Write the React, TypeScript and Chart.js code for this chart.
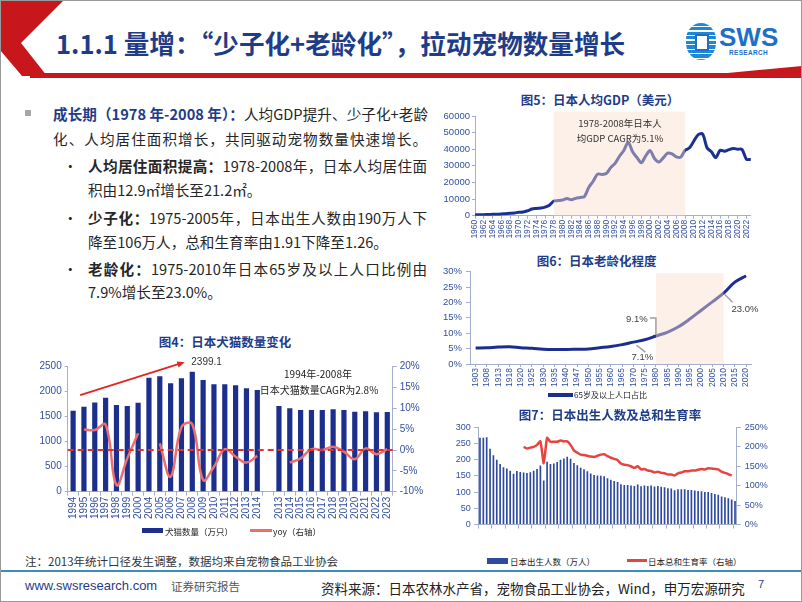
import React, { useEffect, useRef } from 'react';
import { Chart, registerables } from 'chart.js';
Chart.register(...registerables);

// ---------- 图4：日本犬猫数量变化 ----------
const petLabels = ['1994','1995','1996','1997','1998','1999','2000','2004','2005','2006','2007','2008','2009','2010','2011','2012','2013','2014','','2013','2014','2015','2016','2017','2018','2019','2020','2021','2022','2023'];
const petCount = [1620,1700,1785,1880,1733,1713,1780,2280,2310,2167,2267,2399.1,2233,2147,2150,2127,2067,2033,null,1713,1667,1633,1633,1633,1647,1633,1600,1607,1587,1593];
const petYoy = [null,4.9,4.8,6.1,-8.4,-2.0,4.0,null,1.6,-6.4,5.5,6.2,-7.2,-4.0,0.2,-1.6,-3.0,-1.4,null,null,-3.0,-2.0,0.2,0.0,0.8,-0.4,-2.2,0.4,-1.0,0.2];
const petPeakIndex = 11;
const petArrowFrom = [0.65, 1930];
const petArrowTo = [10.3, 2590];
const petNote = ['1994年-2008年', '日本犬猫数量CAGR为2.8%'];

// ---------- 图5：日本人均GDP（美元） ----------
const gdpYears = ['1960','1961','1962','1963','1964','1965','1966','1967','1968','1969','1970','1971','1972','1973','1974','1975','1976','1977','1978','1979','1980','1981','1982','1983','1984','1985','1986','1987','1988','1989','1990','1991','1992','1993','1994','1995','1996','1997','1998','1999','2000','2001','2002','2003','2004','2005','2006','2007','2008','2009','2010','2011','2012','2013','2014','2015','2016','2017','2018','2019','2020','2021','2022','2023'];
const gdpValues = [479,564,636,720,836,919,1058,1229,1451,1669,2037,2272,2967,3998,4354,4659,5198,6335,8821,9105,9463,10361,9578,10425,10984,11585,17112,20745,25052,24823,25371,28925,31465,35766,39269,44198,38437,35022,31903,36027,39169,34406,32289,34808,37688,37218,35434,35275,39339,40855,44968,48760,49145,40898,38475,34961,39375,38834,39751,40416,40041,39827,34017,33834];
const gdpShade = ['1978', '2008'];
const gdpNote = ['1978-2008年日本人', '均GDP CAGR为5.1%'];

// ---------- 图6：日本老龄化程度 ----------
const ageLabels = ['1903','1908','1913','1918','1920','1925','1930','1935','1940','1947','1950','1955','1960','1965','1970','1975','1980','1985','1990','1995','2000','2005','2010','2015','2020'];
const ageValues = [5.2,5.3,5.5,5.6,5.3,5.1,4.8,4.7,4.7,4.8,4.9,5.3,5.7,6.3,7.1,7.9,9.1,10.3,12.1,14.6,17.4,20.2,23.0,26.6,28.7];
const ageShade = ['1980', '2010'];
const ageMarks = ['1970', '1980', '2010'];

// ---------- 图7：日本出生人数及总和生育率 ----------
const birthYears = ['1947','1948','1949','1950','1951','1952','1953','1954','1955','1956','1957','1958','1959','1960','1961','1962','1963','1964','1965','1966','1967','1968','1969','1970','1971','1972','1973','1974','1975','1976','1977','1978','1979','1980','1981','1982','1983','1984','1985','1986','1987','1988','1989','1990','1991','1992','1993','1994','1995','1996','1997','1998','1999','2000','2001','2002','2003','2004','2005','2006','2007','2008','2009','2010','2011','2012','2013','2014','2015','2016','2017','2018','2019','2020','2021','2022','2023'];
const births = [267.9,268.2,269.7,233.8,213.8,200.5,186.8,177.0,173.1,166.5,156.7,165.3,162.6,160.6,158.9,161.9,166.0,171.7,182.4,136.1,193.6,187.2,188.9,193.4,200.1,203.9,209.2,203.0,190.1,183.3,175.5,170.9,164.3,157.7,152.9,151.5,150.9,149.0,143.2,138.3,134.7,131.4,124.7,122.2,122.3,120.9,118.8,123.8,118.7,120.7,119.2,120.3,117.8,119.1,117.1,115.4,112.4,111.1,106.3,109.3,109.0,109.1,107.0,107.1,105.1,103.7,103.0,100.4,100.6,97.7,94.6,91.8,86.5,84.1,81.2,77.1,72.7];
const tfr = [null,null,null,null,null,null,null,null,null,null,null,null,null,200,196,198,200,205,214,158,223,213,213,213,216,214,214,205,191,185,180,179,177,175,174,177,180,181,176,172,169,166,157,154,153,150,146,150,142,143,139,138,134,136,133,132,129,129,126,132,134,137,137,139,139,141,143,142,145,144,143,142,136,133,130,126,null];

// ---------- styles ----------
const NUM = "'Liberation Sans', 'Noto Sans CJK SC', sans-serif";
const CJK = "'Noto Sans CJK SC', 'Liberation Sans', sans-serif";
const BODY = "'Liberation Sans Narrow', 'Noto Sans CJK SC', sans-serif";
const TICK = '#33509E';
const AXIS = '#A3AED0';
const NAVY = '#1B2E8E';
const TITLE = '#1F3C88';
const SHADE = 'rgba(248,222,206,0.45)';
const plain = (v: any) => String(v);

Chart.defaults.font.family = NUM;

function ChartCanvas({ left, top, width, height, config }: any) {
  const ref = useRef<HTMLCanvasElement>(null);
  useEffect(() => {
    const chart = new Chart(ref.current as any, config());
    return () => chart.destroy();
  }, []);
  return <canvas ref={ref} width={width} height={height} style={{ position: 'absolute', left, top, width, height }} />;
}

const axisGrid = (len: number) => ({ display: true, drawOnChartArea: false, tickLength: len, color: AXIS });

function arrow(ctx: any, x0: number, y0: number, x1: number, y1: number) {
  const a = Math.atan2(y1 - y0, x1 - x0);
  ctx.beginPath(); ctx.moveTo(x0, y0); ctx.lineTo(x1 - 5 * Math.cos(a), y1 - 5 * Math.sin(a)); ctx.stroke();
  ctx.beginPath();
  ctx.moveTo(x1, y1);
  ctx.lineTo(x1 - 8 * Math.cos(a - 0.4), y1 - 8 * Math.sin(a - 0.4));
  ctx.lineTo(x1 - 8 * Math.cos(a + 0.4), y1 - 8 * Math.sin(a + 0.4));
  ctx.closePath(); ctx.fill();
}

const petExtras = {
  id: 'petExtras',
  afterDatasetsDraw(chart: any) {
    const { ctx, chartArea, scales } = chart;
    const py = scales.y1.getPixelForValue(0);
    ctx.save();
    ctx.strokeStyle = '#E5322B'; ctx.lineWidth = 2; ctx.setLineDash([6, 4]);
    ctx.beginPath(); ctx.moveTo(chartArea.left, py); ctx.lineTo(chartArea.right, py); ctx.stroke();
    ctx.restore();
  },
  afterDraw(chart: any) {
    const { ctx, scales } = chart;
    const { x, y } = scales;
    ctx.save();
    ctx.strokeStyle = '#E3261F'; ctx.fillStyle = '#E3261F'; ctx.lineWidth = 1.8;
    arrow(ctx, x.getPixelForValue(petArrowFrom[0]), y.getPixelForValue(petArrowFrom[1]), x.getPixelForValue(petArrowTo[0]), y.getPixelForValue(petArrowTo[1]));
    const bx = x.getPixelForValue(petPeakIndex);
    const by = y.getPixelForValue(petCount[petPeakIndex]);
    ctx.fillStyle = '#333'; ctx.font = `10px ${NUM}`; ctx.textAlign = 'left'; ctx.textBaseline = 'middle';
    ctx.fillText(String(petCount[petPeakIndex]), bx - 1, by - 9);
    ctx.restore();
  },
};

const shadeOf = (labels: string[], range: string[], extraTop: number) => ({
  id: 'shade',
  afterDatasetsDraw(chart: any) {
    const { ctx, chartArea, scales } = chart;
    const x0 = scales.x.getPixelForValue(labels.indexOf(range[0]));
    const x1 = scales.x.getPixelForValue(labels.indexOf(range[1]));
    ctx.save();
    ctx.fillStyle = SHADE;
    ctx.fillRect(x0, chartArea.top - extraTop, x1 - x0, chartArea.bottom - chartArea.top + extraTop);
    ctx.restore();
  },
});

const ageExtras = {
  id: 'ageExtras',
  afterDraw(chart: any) {
    const { ctx, scales } = chart;
    const pt = (lab: string) => {
      const i = ageLabels.indexOf(lab);
      return [scales.x.getPixelForValue(i), scales.y.getPixelForValue(ageValues[i]), ageValues[i]];
    };
    ctx.save();
    ctx.strokeStyle = '#A0A0A0'; ctx.lineWidth = 1.5; ctx.fillStyle = '#404040';
    ctx.font = `9.5px ${NUM}`; ctx.textBaseline = 'middle';
    const [ax, ay, av] = pt(ageMarks[0]);
    ctx.beginPath(); ctx.moveTo(ax + 3, ay + 3); ctx.lineTo(ax + 12, ay + 10); ctx.stroke();
    ctx.textAlign = 'center'; ctx.fillText(av.toFixed(1) + '%', ax + 9, ay + 15);
    const [bx, by, bv] = pt(ageMarks[1]);
    ctx.beginPath(); ctx.moveTo(bx - 6, by - 18); ctx.lineTo(bx, by - 18); ctx.lineTo(bx, by - 1); ctx.stroke();
    ctx.textAlign = 'center'; ctx.fillText(bv.toFixed(1) + '%', bx - 19, by - 17);
    const [cx, cy, cv] = pt(ageMarks[2]);
    ctx.beginPath(); ctx.moveTo(cx + 1, cy + 1); ctx.lineTo(cx + 9, cy + 9); ctx.stroke();
    ctx.textAlign = 'left'; ctx.fillText(cv.toFixed(1) + '%', cx + 8, cy + 16);
    ctx.restore();
  },
};

const petConfig = () => ({
  type: 'bar',
  data: {
    labels: petLabels,
    datasets: [
      { type: 'line', label: 'yoy（右轴）', data: petYoy, yAxisID: 'y1', borderColor: '#EC6F6F', borderWidth: 2.5, tension: 0.4, pointRadius: 0, spanGaps: false },
      { type: 'bar', label: '犬猫数量（万只）', data: petCount, yAxisID: 'y', backgroundColor: '#1C2F8D', barPercentage: 0.48, categoryPercentage: 1 },
    ],
  },
  options: {
    animation: false, responsive: false,
    layout: { padding: { top: 16.7, left: 0, right: 0, bottom: 0 } },
    plugins: { legend: { display: false }, tooltip: { enabled: false } },
    scales: {
      x: { grid: { ...axisGrid(4), offset: true }, border: { color: AXIS }, ticks: { color: TICK, font: { size: 10 }, minRotation: 90, maxRotation: 90, autoSkip: false, padding: 1 }, afterFit: (s: any) => { s.height = 33.3; } },
      y: { position: 'left', min: 0, max: 2500, grid: axisGrid(3), border: { color: AXIS }, ticks: { stepSize: 500, color: TICK, font: { size: 10 }, padding: 3, callback: plain }, afterFit: (s: any) => { s.width = 47.7; } },
      y1: { position: 'right', min: -10, max: 20, grid: axisGrid(4), border: { color: AXIS }, ticks: { stepSize: 5, color: TICK, font: { size: 10 }, padding: 3, callback: (v: any) => v + '%' }, afterFit: (s: any) => { s.width = 52.3; } },
    },
  },
  plugins: [petExtras],
});

const gdpConfig = () => ({
  type: 'line',
  data: { labels: gdpYears, datasets: [{ label: '日本人均GDP', data: gdpValues, borderColor: '#1B3192', borderWidth: 3, tension: 0.3, pointRadius: 0 }] },
  options: {
    animation: false, responsive: false,
    layout: { padding: { top: 12, left: 0, right: 6, bottom: 0 } },
    plugins: { legend: { display: false }, tooltip: { enabled: false } },
    scales: {
      x: {
        grid: { display: true, drawOnChartArea: false, tickLength: 3, color: (c: any) => (c.index % 2 === 0 ? AXIS : 'transparent') },
        border: { color: AXIS },
        ticks: { color: TICK, font: { size: 8.5 }, minRotation: 90, maxRotation: 90, autoSkip: false, padding: 1, callback: function (this: any, v: any) { const l = this.getLabelForValue(v); return Number(l) % 2 === 0 ? l : ''; } },
        afterFit: (s: any) => { s.height = 24.3; },
      },
      y: { min: 0, max: 60000, grid: axisGrid(3), border: { color: AXIS }, ticks: { stepSize: 10000, color: TICK, font: { size: 9.5 }, padding: 2, callback: plain }, afterFit: (s: any) => { s.width = 43; } },
    },
  },
  plugins: [shadeOf(gdpYears, gdpShade, 4.3)],
});

const ageConfig = () => ({
  type: 'line',
  data: { labels: ageLabels, datasets: [{ label: '65岁及以上人口占比', data: ageValues, borderColor: NAVY, borderWidth: 3, tension: 0.35, pointRadius: 0 }] },
  options: {
    animation: false, responsive: false,
    layout: { padding: { top: 9, left: 0, right: 10.3, bottom: 0 } },
    plugins: { legend: { display: false }, tooltip: { enabled: false } },
    scales: {
      x: { offset: true, grid: axisGrid(3), border: { color: AXIS }, ticks: { color: TICK, font: { size: 8.5 }, minRotation: 90, maxRotation: 90, autoSkip: false, padding: 1 }, afterFit: (s: any) => { s.height = 26; } },
      y: { min: 0, max: 30, grid: axisGrid(4), border: { color: AXIS }, ticks: { stepSize: 5, color: TICK, font: { size: 9.5 }, padding: 4, callback: (v: any) => v + '%' }, afterFit: (s: any) => { s.width = 38; } },
    },
  },
  plugins: [shadeOf(ageLabels, ageShade, -1.5), ageExtras],
});

const birthConfig = () => ({
  type: 'bar',
  data: {
    labels: birthYears,
    datasets: [
      { type: 'line', label: '日本总和生育率（右轴）', data: tfr, yAxisID: 'y1', borderColor: '#E8443F', borderWidth: 2.5, tension: 0.2, pointRadius: 0 },
      { type: 'bar', label: '日本出生人数（万人）', data: births, yAxisID: 'y', backgroundColor: '#2E4A9E', barPercentage: 0.5, categoryPercentage: 1 },
    ],
  },
  options: {
    animation: false, responsive: false,
    layout: { padding: { top: 9.3, left: 0, right: 0, bottom: 0 } },
    plugins: { legend: { display: false }, tooltip: { enabled: false } },
    scales: {
      x: { grid: { display: true, drawOnChartArea: false, tickLength: 4, offset: true, color: (c: any) => (c.index % 4 === 0 ? AXIS : 'transparent') }, border: { color: AXIS }, ticks: { display: false }, afterFit: (s: any) => { s.height = 6; } },
      y: { position: 'left', min: 0, max: 300, grid: axisGrid(4), border: { color: AXIS }, ticks: { stepSize: 50, color: TICK, font: { size: 9 }, padding: 3.6, callback: plain }, afterFit: (s: any) => { s.width = 46.3; } },
      y1: { position: 'right', min: 0, max: 250, grid: axisGrid(4), border: { color: AXIS }, ticks: { stepSize: 50, color: TICK, font: { size: 9 }, padding: 4, callback: (v: any) => v + '%' }, afterFit: (s: any) => { s.width = 40.3; } },
    },
  },
});

const abs = (left: number, top: number, extra: any = {}) => ({ position: 'absolute' as const, left, top, ...extra });

function Title({ cx, cy, text }: any) {
  return <div style={abs(cx - 150, cy - 10, { width: 300, textAlign: 'center', fontFamily: CJK, fontWeight: 700, fontSize: 12.5, lineHeight: '20px', color: TITLE, whiteSpace: 'nowrap' })}>{text}</div>;
}

function Txt({ x, cy, size, color = '#222', children, bold = false, family = CJK, align = 'left', w = 0, justify = 0 }: any) {
  const st: any = { fontFamily: family, fontSize: size, lineHeight: '20px', color, whiteSpace: 'nowrap', fontWeight: bold ? 700 : 400 };
  if (justify) {
    st.width = justify; st.whiteSpace = 'normal'; st.textAlign = 'justify'; st.textAlignLast = 'justify'; st.textJustify = 'inter-character';
    return <div style={abs(x, cy - 10, st)}>{children}</div>;
  }
  if (align === 'center') { st.width = w; st.textAlign = 'center'; return <div style={abs(x - w / 2, cy - 10, st)}>{children}</div>; }
  return <div style={abs(x, cy - 10, st)}>{children}</div>;
}

function Swatch({ x, cy, w, h, color }: any) {
  return <div style={abs(x, cy - h / 2, { width: w, height: h, background: color })} />;
}

export default function App() {
  const B = { fontWeight: 700 };
  const T = { size: 14.6, family: BODY, color: '#262626' };
  return (
    <div style={{ position: 'absolute', left: 0, top: 0, width: 802, height: 602, background: '#fff', overflow: 'hidden', fontFamily: CJK }}>
      {/* header */}
      <svg width={802} height={80} style={abs(0, 0)}>
        <rect x={0} y={0} width={802} height={1} fill="#9a9a9a" />
        <polygon points="0,0 64,0 21,43 47,76 22,76 0,50" fill="#C8161D" />
        <rect x={30} y={73} width={772} height={5} fill="#C8161D" />
        <polygon points="675,78 802,66 802,78" fill="#C8161D" />
      </svg>
      <div style={abs(56, 27, { fontFamily: CJK, fontWeight: 700, fontSize: 25.6, lineHeight: '32px', color: TITLE, whiteSpace: 'nowrap' })}>1.1.1 量增：“少子化+老龄化”，拉动宠物数量增长</div>
      <div style={abs(686, 23, { width: 30, height: 37, borderRadius: '50% / 46%', background: 'repeating-linear-gradient(180deg,#1E88D8 0px,#1E88D8 3px,#ffffff 3px,#ffffff 4.5px)' })}>
        <div style={abs(9, 11, { width: 10, height: 13, background: '#fff', border: '2px solid #1E6FC8' })} />
      </div>
      <div style={abs(719, 23, { fontFamily: NUM, fontWeight: 700, fontSize: 26, lineHeight: '28px', color: '#1E6FC8' })}>SWS</div>
      <div style={abs(729, 49, { fontFamily: NUM, fontWeight: 700, fontSize: 6.5, lineHeight: '8px', color: '#1E6FC8', letterSpacing: 0.3 })}>RESEARCH</div>

      {/* body text */}
      <div style={abs(25, 110, { width: 6, height: 6, background: '#A6A6A6' })} />
      <Txt x={53} cy={114} {...T} justify={375}><span style={{ ...B, color: TITLE }}>成长期（1978 年-2008 年）：</span>人均GDP提升、少子化+老龄</Txt>
      <Txt x={53} cy={139} {...T} justify={374}>化、人均居住面积增长，共同驱动宠物数量快速增长。</Txt>
      <Txt x={63} cy={166} {...T}>•</Txt>
      <Txt x={88} cy={166} {...T} justify={339}><span style={B}>人均居住面积提高：</span>1978-2008年，日本人均居住面</Txt>
      <Txt x={88} cy={190} {...T}>积由12.9㎡增长至21.2㎡。</Txt>
      <Txt x={63} cy={218} {...T}>•</Txt>
      <Txt x={88} cy={218} {...T} justify={339}><span style={B}>少子化：</span>1975-2005年，日本出生人数由190万人下</Txt>
      <Txt x={88} cy={242} {...T}>降至106万人，总和生育率由1.91下降至1.26。</Txt>
      <Txt x={63} cy={269} {...T}>•</Txt>
      <Txt x={88} cy={269} {...T} justify={339}><span style={B}>老龄化：</span>1975-2010年日本65岁及以上人口比例由</Txt>
      <Txt x={88} cy={292} {...T}>7.9%增长至23.0%。</Txt>

      {/* 图4 */}
      <Title cx={225} cy={341.7} text="图4：日本犬猫数量变化" />
      <ChartCanvas left={20} top={350} width={425} height={175} config={petConfig} />
      <Txt x={318} cy={374} size={10} align="center" w={160}>{petNote[0]}</Txt>
      <Txt x={319} cy={390} size={10} align="center" w={160}>{petNote[1]}</Txt>
      <Swatch x={141.7} cy={530.7} w={21.6} h={5} color="#1C2F8D" />
      <Txt x={165} cy={530.7} size={8.5}>犬猫数量（万只）</Txt>
      <Swatch x={250} cy={530.7} w={21.7} h={2.5} color="#EC6F6F" />
      <Txt x={273} cy={530.7} size={8.5}>yoy（右轴）</Txt>

      {/* 图5 */}
      <Title cx={600} cy={100} text="图5：日本人均GDP（美元）" />
      <ChartCanvas left={432} top={104} width={330} height={136} config={gdpConfig} />
      <Txt x={620} cy={123} size={9.5} align="center" w={140} color="#333">{gdpNote[0]}</Txt>
      <Txt x={620} cy={138} size={9.5} align="center" w={140} color="#333">{gdpNote[1]}</Txt>

      {/* 图6 */}
      <Title cx={596.7} cy={260.7} text="图6：日本老龄化程度" />
      <ChartCanvas left={432} top={262} width={330} height={128} config={ageConfig} />
      <Swatch x={548} cy={395} w={25} h={3.5} color={NAVY} />
      <Txt x={574} cy={395} size={8}>65岁及以上人口占比</Txt>

      {/* 图7 */}
      <Title cx={610} cy={415} text="图7：日本出生人数及总和生育率" />
      <ChartCanvas left={432} top={418} width={345} height={116} config={birthConfig} />
      <Swatch x={487} cy={560.5} w={21} h={6} color="#2E4A9E" />
      <Txt x={510} cy={560.5} size={8.5}>日本出生人数（万人）</Txt>
      <Swatch x={627} cy={560.5} w={20} h={2.5} color="#E8443F" />
      <Txt x={648} cy={560.5} size={8.5}>日本总和生育率（右轴）</Txt>

      {/* footer */}
      <Txt x={25} cy={561} size={11.5} color="#333">注：2013年统计口径发生调整，数据均来自宠物食品工业协会</Txt>
      <div style={abs(0, 570, { width: 802, height: 2, background: '#3A8DBE' })} />
      <Txt x={25} cy={586} size={13} color={TITLE} family={NUM}>www.swsresearch.com</Txt>
      <Txt x={171} cy={586} size={11.5} color="#555">证券研究报告</Txt>
      <Txt x={321} cy={588} size={13.5} color="#222">资料来源：日本农林水产省，宠物食品工业协会，Wind，申万宏源研究</Txt>
      <Txt x={758} cy={584} size={11} color={TITLE} family={NUM}>7</Txt>
      <div style={abs(0, 0, { width: 802, height: 602, boxSizing: 'border-box', border: '1px solid #9a9a9a', pointerEvents: 'none' })} />
    </div>
  );
}
